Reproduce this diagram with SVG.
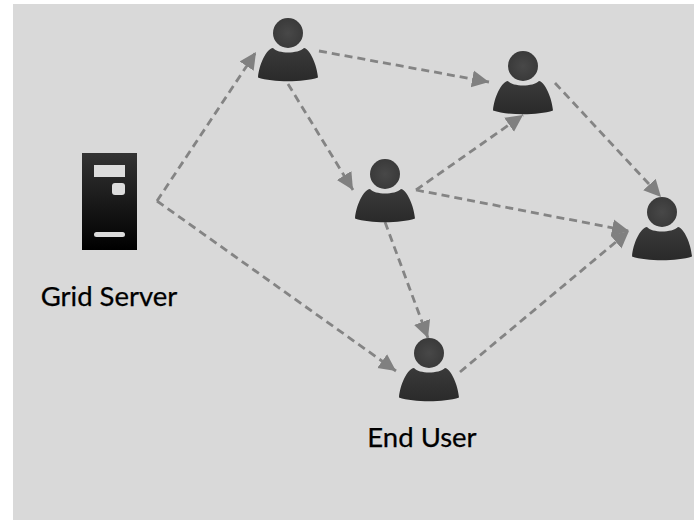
<svg xmlns="http://www.w3.org/2000/svg" xmlns:xlink="http://www.w3.org/1999/xlink" width="694" height="520" viewBox="0 0 694 520">
<style>
.link{fill:none;stroke:#848484;stroke-width:2.8;stroke-dasharray:8 5;marker-end:url(#arrow)}
.label{font-family:"Lato","Noto Sans",sans-serif;font-size:27.5px;fill:#000;stroke:#000;stroke-width:0.25;text-anchor:middle}
.hole{fill:#dcdcdc}
</style>
<defs>
<marker id="arrow" markerUnits="userSpaceOnUse" markerWidth="20" markerHeight="20" refX="17" refY="9" orient="auto">
<path d="M0 0.5L17 9L0 17.5Z" fill="#808080"/>
</marker>
<linearGradient id="server" x1="0" y1="0" x2="0" y2="1">
<stop offset="0" stop-color="#333"/><stop offset="1" stop-color="#000"/>
</linearGradient>
<radialGradient id="head" cx="0.5" cy="0.5" r="0.5">
<stop offset="0" stop-color="#484848"/><stop offset="1" stop-color="#3a3a3a"/>
</radialGradient>
<linearGradient id="body" x1="0" y1="0" x2="0" y2="1">
<stop offset="0" stop-color="#3a3a3a"/><stop offset="1" stop-color="#2a2a2a"/>
</linearGradient>
<g id="person">
<circle cx="0" cy="0" r="15" fill="url(#head)"/>
<path d="M-15 15C-10 21 10 21 16 15C22 16 29 32 30 44.5C15 49.5 -15 49.5 -30 44.5C-29 32 -22 16 -15 15Z" fill="url(#body)"/>
</g>
</defs>
<rect x="13" y="4" width="681" height="516" fill="#d9d9d9"/>
<g id="connectors">
<path class="link" d="M157 201L256 52"/>
<path class="link" d="M157 201L396 371"/>
<path class="link" d="M319 51L489 82"/>
<path class="link" d="M288 84L353 190"/>
<path class="link" d="M416 190L523 115"/>
<path class="link" d="M416 190L629 231"/>
<path class="link" d="M385 222L428 338"/>
<path class="link" d="M460 372L629 231"/>
<path class="link" d="M555 83L661 197"/>
</g>
<g id="grid-server">
<rect x="82" y="153" width="55" height="97" fill="url(#server)"/>
<rect x="94" y="165" width="31" height="12" class="hole"/>
<rect x="112" y="183" width="13" height="12" rx="3" class="hole"/>
<rect x="94" y="232" width="31" height="5" rx="2.5" class="hole"/>
<text class="label" x="109" y="306">Grid Server</text>
</g>
<g id="user-1"><use href="#person" x="288" y="33"/></g>
<g id="user-2"><use href="#person" x="523" y="66"/></g>
<g id="user-3"><use href="#person" x="385" y="174"/></g>
<g id="user-4"><use href="#person" x="662" y="212"/></g>
<g id="end-user"><use href="#person" x="429" y="353"/><text class="label" x="422" y="447">End User</text></g>
</svg>
